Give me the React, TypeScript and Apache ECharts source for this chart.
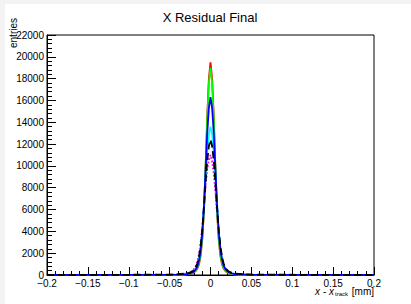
import React, { useEffect, useRef } from "react";
import * as echarts from "echarts";

const xs = [-0.2, -0.05, -0.04, -0.03, -0.026, -0.022, -0.02, -0.018, -0.016, -0.014, -0.012, -0.01, -0.008, -0.006, -0.004, -0.002, 0,
  0.002, 0.004, 0.006, 0.008, 0.01, 0.012, 0.014, 0.016, 0.018, 0.02, 0.022, 0.026, 0.03, 0.04, 0.05, 0.2];

const redVals = [0, 5, 15, 50, 90, 170, 250, 380, 600, 1000, 1800, 3300, 5800, 9800, 14500, 18000, 19500,
  18000, 14500, 9800, 5800, 3300, 1800, 1000, 600, 380, 250, 170, 90, 50, 15, 5, 0];
const greenVals = [0, 8, 20, 60, 110, 200, 290, 430, 680, 1100, 1950, 3500, 6000, 9900, 14300, 17600, 19000,
  17600, 14300, 9900, 6000, 3500, 1950, 1100, 680, 430, 290, 200, 110, 60, 20, 8, 0];
const blueVals = [0, 15, 35, 75, 125, 230, 340, 510, 800, 1320, 2250, 3850, 6350, 9600, 13000, 15300, 16300,
  15300, 13000, 9650, 6500, 4000, 2400, 1420, 870, 560, 380, 260, 145, 90, 45, 25, 0];
const cyanVals = [0, 15, 40, 90, 150, 270, 390, 580, 920, 1500, 2500, 4100, 6300, 8900, 11300, 12900, 13600,
  12900, 11300, 8900, 6300, 4100, 2500, 1500, 920, 580, 390, 270, 150, 90, 40, 15, 0];
const blackVals = [0, 30, 70, 130, 200, 340, 480, 700, 1080, 1700, 2700, 4200, 6200, 8500, 10500, 11800, 12400,
  11800, 10500, 8500, 6200, 4200, 2700, 1700, 1080, 700, 480, 340, 200, 130, 70, 30, 0];
const magentaVals = [0, 20, 50, 130, 220, 380, 560, 820, 1250, 1950, 3000, 4500, 6300, 8200, 9700, 10600, 11000,
  10400, 9300, 7600, 5700, 3900, 2500, 1600, 1000, 650, 430, 300, 170, 100, 40, 15, 0];

const xTicks = [-0.2, -0.15, -0.1, -0.05, 0, 0.05, 0.1, 0.15, 0.2];
const yMax = 22000;
const yStep = 2000;

const seriesDefs = [
  { name: "magenta", color: "#ff00ff", vals: magentaVals, type: "dotted" },
  { name: "red", color: "#ff0000", vals: redVals, type: "solid" },
  { name: "green", color: "#00ff00", vals: greenVals, type: "solid" },
  { name: "cyan", color: "#00ffff", vals: cyanVals, type: "solid" },
  { name: "blue", color: "#0000ff", vals: blueVals, type: "solid" },
  { name: "black", color: "#000000", vals: blackVals, type: "dashed" },
];

function fmtX(v: number): string {
  const r = Math.round(v * 1000) / 1000;
  if (r === 0) return "0";
  const s = String(Math.abs(r));
  return r < 0 ? "\u2212" + s : s;
}

export default function App() {
  const ref = useRef<HTMLDivElement>(null);
  useEffect(() => {
    if (!ref.current) return;
    const chart = echarts.init(ref.current, undefined, { renderer: "svg" });
    const font = "Liberation Sans";
    chart.setOption({
      animation: false,
      backgroundColor: "#ffffff",
      grid: { left: 42, right: 37, top: 31, bottom: 29, show: true, borderColor: "#000", borderWidth: 1, backgroundColor: "transparent" },
      xAxis: {
        type: "value",
        min: -0.2,
        max: 0.2,
        interval: 0.05,
        axisLine: { show: true, onZero: false, lineStyle: { color: "#000", width: 1 } },
        axisTick: { show: true, inside: true, length: 8, lineStyle: { color: "#000" } },
        minorTick: { show: true, splitNumber: 5, length: 4, lineStyle: { color: "#000" } },
        splitLine: { show: false },
        axisLabel: { color: "#000", fontFamily: font, fontSize: 10, margin: 3, formatter: (v: number) => (xTicks.some(t => Math.abs(t - v) < 1e-6) ? fmtX(v) : "") },
      },
      yAxis: {
        type: "value",
        min: 0,
        max: yMax,
        interval: yStep,
        axisLine: { show: true, onZero: false, lineStyle: { color: "#000", width: 1 } },
        axisTick: { show: true, inside: true, length: 9, lineStyle: { color: "#000" } },
        minorTick: { show: true, splitNumber: 5, length: 5, lineStyle: { color: "#000" } },
        splitLine: { show: false },
        axisLabel: { color: "#000", fontFamily: font, fontSize: 10, margin: 3, formatter: (v: number) => String(v) },
      },
      series: seriesDefs.map(s => ({
        type: "line",
        name: s.name,
        data: xs.map((x, i) => [x, s.vals[i]]),
        showSymbol: false,
        symbol: "none",
        lineStyle: { color: s.color, width: 1.8, type: s.type },
        itemStyle: { color: s.color },
      })),
      graphic: [
        { type: "text", x: 205, y: 13, style: { text: "X Residual Final", font: `13px ${font}`, fill: "#000", align: "center", verticalAlign: "middle" } },
        { type: "text", x: 8, y: 29, rotation: Math.PI / 2, style: { text: "entries", font: `10px ${font}`, fill: "#000", align: "center", verticalAlign: "middle" } },
        {
          type: "text", right: 37, top: 282,
          style: {
            text: "{i|x} - {i|x}{s|track} [mm]",
            font: `10px ${font}`,
            fill: "#000",
            rich: {
              i: { fontStyle: "italic", fontSize: 10, fontFamily: font, fill: "#000" },
              s: { fontSize: 6, fontFamily: font, fill: "#000", padding: [6, 1, 0, 1] },
            },
          },
        },
      ],
    });
    return () => chart.dispose();
  }, []);
  return (
    <div style={{ position: "fixed", left: 0, top: 0, width: 411, height: 304, background: "#f3f3f3" }}>
      <div ref={ref} style={{ position: "absolute", left: 5, top: 4, width: 406, height: 300, background: "#fff" }} />
    </div>
  );
}
